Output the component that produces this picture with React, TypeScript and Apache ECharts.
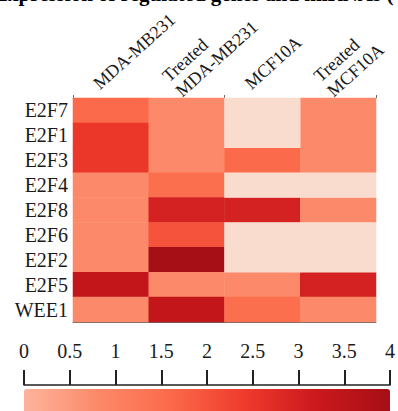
import React, { useEffect, useRef } from 'react';
import * as echarts from 'echarts';

const columns = ['MDA-MB231', 'Treated\nMDA-MB231', 'MCF10A', 'Treated\nMCF10A'];
const genes = ['E2F7', 'E2F1', 'E2F3', 'E2F4', 'E2F8', 'E2F6', 'E2F2', 'E2F5', 'WEE1'];

// values per column, in gene order (values below 0 are shown in the pale colour)
const mdaMb231 = [1.6, 2.5, 2.5, 0.8, 0.8, 0.8, 0.8, 3.4, 0.8];
const treatedMdaMb231 = [0.8, 0.8, 0.8, 1.5, 3.0, 2.0, 4.0, 0.8, 3.4];
const mcf10a = [-0.5, -0.5, 1.6, -0.5, 3.0, -0.5, -0.5, 0.8, 1.5];
const treatedMcf10a = [0.8, 0.8, 0.8, -0.5, 0.8, -0.5, -0.5, 3.0, 0.8];

const scaleMin = 0;
const scaleMax = 4;
const scaleStep = 0.5;

const titleText = 'Expression of regulated genes and miRNAs (';

const SERIF = 'Liberation Serif';

// layout
const HM_LEFT = 73;
const HM_RIGHT = 22;
const HM_TOP = 98;
const HM_HEIGHT = 224;
const W = 398;
const COL_W = (W - HM_LEFT - HM_RIGHT) / columns.length;
const LABEL_SHIFT = -15;

export default function App() {
  const ref = useRef<HTMLDivElement>(null);
  useEffect(() => {
    const chart = echarts.init(ref.current!, null, { renderer: 'svg' });
    const cols = [mdaMb231, treatedMdaMb231, mcf10a, treatedMcf10a];
    const inRange: number[][] = [];
    const below: number[][] = [];
    cols.forEach((col, xi) =>
      col.forEach((v, yi) => (v < scaleMin ? below : inRange).push([xi, yi, v]))
    );

    const labelLeft = HM_LEFT + COL_W / 2 + LABEL_SHIFT;
    const labelWidth = COL_W * (columns.length - 1);

    chart.setOption({
      animation: false,
      backgroundColor: '#fff',
      graphic: [
        {
          type: 'text',
          left: -6,
          top: -17,
          style: { text: titleText, font: `bold 21px ${SERIF}`, fill: '#000' },
        },
      ],
      grid: [
        { left: HM_LEFT, right: HM_RIGHT, top: HM_TOP, height: HM_HEIGHT, containLabel: false },
        { left: 24, right: 8, top: 385, height: 20, containLabel: false },
        {
          left: labelLeft,
          right: W - labelLeft - labelWidth,
          top: HM_TOP,
          height: HM_HEIGHT,
          containLabel: false,
        },
      ],
      xAxis: [
        {
          type: 'category',
          gridIndex: 0,
          data: columns,
          position: 'top',
          axisLine: { show: true, lineStyle: { color: '#bbb', width: 1 } },
          axisTick: { show: true, length: 3, lineStyle: { color: '#666' } },
          splitLine: { show: false },
          axisLabel: { show: false },
        },
        {
          type: 'value',
          gridIndex: 1,
          min: scaleMin,
          max: scaleMax,
          interval: scaleStep,
          position: 'top',
          axisLine: { show: true, onZero: false, lineStyle: { color: '#222', width: 1.5 } },
          axisTick: { show: true, length: 15, lineStyle: { color: '#222', width: 2 } },
          splitLine: { show: false },
          axisLabel: {
            margin: 24,
            fontFamily: SERIF,
            fontSize: 20,
            color: '#1a1a1a',
          },
        },
        {
          type: 'value',
          gridIndex: 2,
          min: 0,
          max: columns.length - 1,
          interval: 1,
          position: 'top',
          axisLine: { show: false, onZero: false },
          axisTick: { show: false },
          splitLine: { show: false },
          axisLabel: {
            rotate: -42,
            margin: 20,
            fontFamily: SERIF,
            fontSize: 18,
            lineHeight: 20,
            color: '#1a1a1a',
            formatter: (v: number) => columns[Math.round(v)] ?? '',
          },
        },
        {
          type: 'category',
          gridIndex: 0,
          data: columns,
          position: 'bottom',
          axisLine: { show: true, onZero: false, lineStyle: { color: '#666', width: 1 } },
          axisTick: { show: false },
          splitLine: { show: false },
          axisLabel: { show: false },
        },
      ],
      yAxis: [
        {
          type: 'category',
          gridIndex: 0,
          data: genes,
          inverse: true,
          axisLine: { show: false },
          axisTick: { show: false },
          splitLine: { show: false },
          axisLabel: {
            interval: 0,
            margin: 5,
            fontFamily: SERIF,
            fontSize: 20,
            color: '#1a1a1a',
          },
        },
        { type: 'value', gridIndex: 1, show: false },
        { type: 'value', gridIndex: 2, show: false },
      ],
      visualMap: [
        {
          type: 'continuous',
          min: scaleMin,
          max: scaleMax,
          seriesIndex: 0,
          orient: 'horizontal',
          left: 24,
          top: 389,
          itemWidth: 26,
          itemHeight: 366,
          padding: 0,
          calculable: false,
          hoverLink: false,
          inRange: {
            color: ['#fdb49c', '#fc8a6a', '#fb6a4a', '#ef3b2c', '#cb181d', '#a50f15'],
          },
        },
        {
          type: 'continuous',
          show: false,
          min: -1,
          max: scaleMin,
          seriesIndex: 1,
          inRange: { color: ['#fadccf', '#fadccf'] },
        },
      ],
      series: [
        {
          type: 'heatmap',
          xAxisIndex: 0,
          yAxisIndex: 0,
          data: inRange,
          itemStyle: { borderWidth: 0 },
          label: { show: false },
          z: 1,
        },
        {
          type: 'heatmap',
          xAxisIndex: 0,
          yAxisIndex: 0,
          data: below,
          itemStyle: { borderWidth: 0 },
          label: { show: false },
          z: 1,
        },
      ],
    });
    return () => chart.dispose();
  }, []);
  return (
    <div
      ref={ref}
      style={{ position: 'absolute', left: 0, top: 0, width: 398, height: 411 }}
    />
  );
}
